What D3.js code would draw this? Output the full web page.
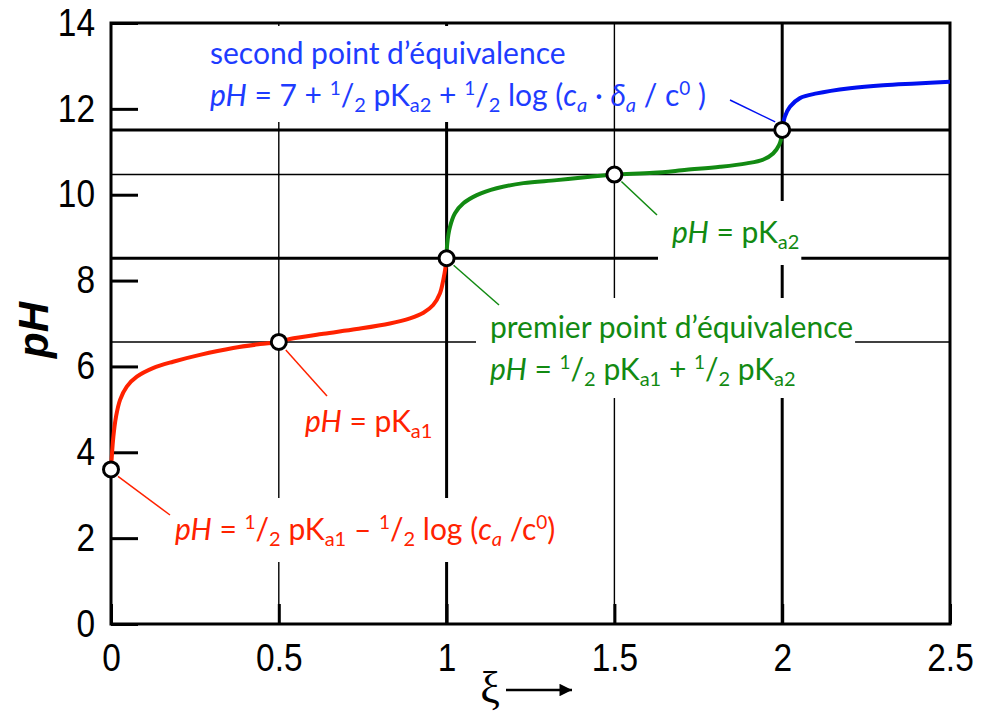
<!DOCTYPE html>
<html>
<head>
<meta charset="utf-8">
<script src="https://cdn.jsdelivr.net/npm/d3@7"></script>
<style>
  body { margin: 0; background: #fff; }
  svg { display: block; }
</style>
</head>
<body>
<svg id="titration" width="988" height="711"></svg>
<script>
// titration of a diacid: readings
const redXi   = [0, 0.007, 0.015, 0.027, 0.047, 0.077, 0.125, 0.185, 0.265, 0.364, 0.444, 0.5,
                 0.533, 0.633, 0.732, 0.831, 0.891, 0.931, 0.960, 0.980, 0.990, 0.997, 1.0];
const redPH   = [3.6, 4.36, 4.83, 5.22, 5.53, 5.76, 5.96, 6.11, 6.27, 6.43, 6.52, 6.57,
                 6.64, 6.76, 6.87, 7.00, 7.12, 7.25, 7.43, 7.70, 8.01, 8.32, 8.52];
const greenXi = [1.0, 1.002, 1.010, 1.025, 1.050, 1.090, 1.149, 1.229, 1.328, 1.427, 1.5,
                 1.616, 1.715, 1.815, 1.894, 1.944, 1.973, 1.991, 1.998, 2.0];
const greenPH = [8.52, 8.87, 9.25, 9.57, 9.80, 9.99, 10.15, 10.27, 10.34, 10.42, 10.47,
                 10.51, 10.58, 10.65, 10.73, 10.82, 10.96, 11.16, 11.35, 11.51];
const blueXi  = [2.0, 2.008, 2.023, 2.053, 2.103, 2.202, 2.301, 2.401, 2.5];
const bluePH  = [11.51, 11.82, 12.05, 12.25, 12.36, 12.48, 12.55, 12.59, 12.63];

// marked points: start, half-equivalences, equivalences
const markXi = [0, 0.5, 1, 1.5, 2];
const markPH = [3.6, 6.57, 8.52, 10.47, 11.51];
const markHeavy = [false, false, true, false, true];

const xTicks = [0, 0.5, 1, 1.5, 2, 2.5];
const yTicks = [0, 2, 4, 6, 8, 10, 12, 14];

const svg = d3.select("svg#titration");
const margin = { top: 23, left: 111, right: 38, bottom: 87 };
const width = +svg.attr("width");
const height = +svg.attr("height");
const chartWidth = width - margin.left - margin.right;
const chartHeight = height - margin.top - margin.bottom;

const RED = "#ff2200", GREEN = "#128a12", BLUE = "#0010f0", BLUE_TXT = "#1e3cff";
const TXT_FONT = "Lato, 'Open Sans', sans-serif";
const TICK_SQUEEZE = 0.88;

const x = d3.scaleLinear().domain([0, 2.5]).range([0, chartWidth]);
const y = d3.scaleLinear().domain([0, 14]).range([chartHeight, 0]);

const chart = svg.append("g").attr("transform", `translate(${margin.left},${margin.top})`);

// grid lines through the marked points (skip the start point)
const grid = chart.append("g").attr("id", "grid");
markXi.forEach((v, i) => {
    if (i === 0) return;
    grid.append("line")
        .attr("x1", x(v)).attr("x2", x(v)).attr("y1", 0).attr("y2", chartHeight)
        .attr("stroke", "#000").attr("stroke-width", markHeavy[i] ? 3 : 1.4);
    grid.append("line")
        .attr("x1", 0).attr("x2", chartWidth).attr("y1", y(markPH[i])).attr("y2", y(markPH[i]))
        .attr("stroke", "#000").attr("stroke-width", markHeavy[i] ? 3 : 1.4);
});

// axes with inward ticks
const bottomAxis = d3.axisBottom(x).tickValues(xTicks).tickSize(-20).tickPadding(20)
    .tickFormat(d3.format("~g"));
const leftAxis = d3.axisLeft(y).tickValues(yTicks).tickSize(-27).tickPadding(16);

const gx = chart.append("g").attr("transform", `translate(0,${chartHeight})`).call(bottomAxis);
const gy = chart.append("g").call(leftAxis);
[gx, gy].forEach(g => {
    g.select(".domain").remove();
    g.selectAll(".tick line").attr("stroke", "#000").attr("stroke-width", 3);
    g.selectAll(".tick text")
        .attr("fill", "#000")
        .attr("transform", `scale(${TICK_SQUEEZE},1)`)
        .style("font-family", "'Liberation Sans', Arial, sans-serif")
        .style("font-size", "38px");
});
gy.selectAll(".tick text").attr("x", -16 / TICK_SQUEEZE);

// frame
chart.append("rect")
    .attr("width", chartWidth).attr("height", chartHeight)
    .attr("fill", "none").attr("stroke", "#000").attr("stroke-width", 3);

// annotations (white boxes hide the grid behind them)
const notes = chart.append("g").attr("id", "notes");

function richLine(g, px, py, parts, color) {
    const t = g.append("text").attr("x", px).attr("y", py).attr("fill", color)
        .style("font-family", TXT_FONT).style("font-size", "30px");
    let shift = 0;
    parts.forEach(([s, kind]) => {
        let target = 0, size = null, italic = false;
        if (kind === "sup") { target = -11; size = "19px"; }
        if (kind === "sub") { target = 6; size = "20px"; }
        if (kind === "i") italic = true;
        if (kind === "isub") { target = 6; size = "20px"; italic = true; }
        const ts = t.append("tspan").text(s).attr("dy", target - shift);
        if (size) ts.style("font-size", size);
        if (italic) ts.style("font-style", "italic");
        shift = target;
    });
    return t;
}

function note(lines, color, pad, boxLines) {
    const g = notes.append("g");
    const box = g.append("rect").attr("fill", "#fff");
    const texts = lines.map(l => richLine(g, l[0], l[1], l[2], color));
    const used = texts.slice(0, boxLines || texts.length).map(t => t.node().getBBox());
    const all = texts.map(t => t.node().getBBox());
    const x0 = d3.min(used, b => b.x) - pad[0];
    const x1 = d3.max(used, b => b.x + b.width) + pad[1];
    const y0 = d3.min(all, b => b.y) - pad[2];
    const y1 = d3.max(all, b => b.y + b.height) + pad[3];
    box.attr("x", x0).attr("y", y0).attr("width", x1 - x0).attr("height", y1 - y0);
}

function leader(p0, p1, color) {
    notes.append("line")
        .attr("x1", p0[0]).attr("y1", p0[1]).attr("x2", p1[0]).attr("y2", p1[1])
        .attr("stroke", color).attr("stroke-width", 1.5);
}

const L = margin.left, T = margin.top;

note([
    [210 - L, 64 - T, [["second point d\u2019\u00e9quivalence", "n"]]],
    [210 - L, 106 - T, [["pH", "i"], [" = 7 + ", "n"], ["1", "sup"], ["/", "n"], ["2", "sub"],
        [" pK", "n"], ["a2", "sub"], [" + ", "n"], ["1", "sup"], ["/", "n"], ["2", "sub"],
        [" log (", "n"], ["c", "i"], ["a", "isub"], [" \u00b7 ", "n"], ["\u03b4", "i"], ["a", "isub"],
        [" / c", "n"], ["0", "sup"], [" )", "n"]]]
], BLUE_TXT, [14, 16, 8, 6], 1);

note([
    [490 - L, 338 - T, [["premier point d\u2019\u00e9quivalence", "n"]]],
    [490 - L, 380 - T, [["pH", "i"], [" = ", "n"], ["1", "sup"], ["/", "n"], ["2", "sub"],
        [" pK", "n"], ["a1", "sub"], [" + ", "n"], ["1", "sup"], ["/", "n"], ["2", "sub"],
        [" pK", "n"], ["a2", "sub"]]]
], GREEN, [14, 2, 10, 8]);

note([[672 - L, 243 - T, [["pH", "i"], [" = pK", "n"], ["a2", "sub"]]]], GREEN, [14, 2, 12, 12]);
note([[305 - L, 432 - T, [["pH", "i"], [" = pK", "n"], ["a1", "sub"]]]], RED, [8, 4, 10, 8]);
note([[175 - L, 540 - T, [["pH", "i"], [" = ", "n"], ["1", "sup"], ["/", "n"], ["2", "sub"],
    [" pK", "n"], ["a1", "sub"], [" \u2013 ", "n"], ["1", "sup"], ["/", "n"], ["2", "sub"],
    [" log (", "n"], ["c", "i"], ["a", "isub"], [" /c", "n"], ["0", "sup"], [")", "n"]]]],
    RED, [10, 10, 12, 12]);

// leader lines from the marked points to their notes
leader([x(markXi[0]) + 7, y(markPH[0]) + 7], [170 - L, 515 - T], RED);
leader([x(markXi[1]) + 7, y(markPH[1]) + 8], [327 - L, 396 - T], RED);
leader([x(markXi[2]) + 7, y(markPH[2]) + 7], [499 - L, 305 - T], GREEN);
leader([x(markXi[3]) + 7, y(markPH[3]) + 7], [657 - L, 215 - T], GREEN);
leader([x(markXi[4]) - 7, y(markPH[4]) - 8], [730 - L, 100 - T], BLUE);

// curve
const line = d3.line().x(d => x(d[0])).y(d => y(d[1])).curve(d3.curveCatmullRom.alpha(0.5));
const curves = chart.append("g").attr("id", "curves");
[[redXi, redPH, RED], [greenXi, greenPH, GREEN], [blueXi, bluePH, BLUE]].forEach(([xs, ys, c]) => {
    curves.append("path")
        .datum(d3.zip(xs, ys))
        .attr("d", line)
        .attr("fill", "none").attr("stroke", c).attr("stroke-width", 4);
});

// marked points
chart.append("g").selectAll("circle").data(d3.zip(markXi, markPH)).join("circle")
    .attr("cx", d => x(d[0])).attr("cy", d => y(d[1])).attr("r", 7.5)
    .attr("fill", "#fff").attr("stroke", "#000").attr("stroke-width", 3);

// axis titles
svg.append("text")
    .attr("transform", "translate(48,330) rotate(-90)")
    .attr("text-anchor", "middle")
    .style("font-family", "'Liberation Sans', Arial, sans-serif")
    .style("font-size", "42px").style("font-weight", "bold").style("font-style", "italic")
    .text("pH");

svg.append("text")
    .attr("x", 490).attr("y", 702).attr("text-anchor", "middle")
    .style("font-family", "'Liberation Serif', 'DejaVu Serif', serif")
    .style("font-size", "44px")
    .text("\u03be");

svg.append("defs").append("marker")
    .attr("id", "arrow").attr("viewBox", "0 0 10 10").attr("refX", 10).attr("refY", 5)
    .attr("markerWidth", 6).attr("markerHeight", 5).attr("markerUnits", "strokeWidth")
    .attr("orient", "auto")
    .append("path").attr("d", "M0,0 L10,5 L0,10 z").attr("fill", "#000");

svg.append("line")
    .attr("x1", 506).attr("x2", 572).attr("y1", 690).attr("y2", 690)
    .attr("stroke", "#000").attr("stroke-width", 2.5).attr("marker-end", "url(#arrow)");
</script>
</body>
</html>
